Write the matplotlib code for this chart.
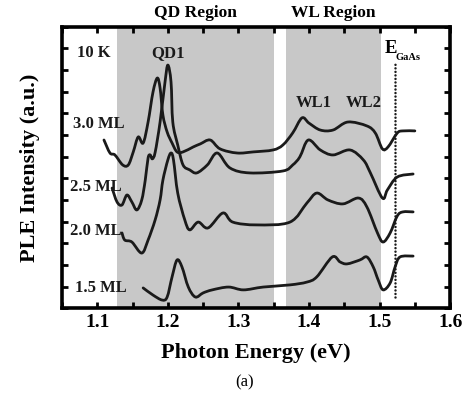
import matplotlib
matplotlib.use("Agg")
import matplotlib.pyplot as plt
from matplotlib.ticker import MultipleLocator
from matplotlib.path import Path
from matplotlib.patches import PathPatch

plt.rcParams['font.family'] = ['Liberation Serif', 'DejaVu Serif']

# ---- data (photon energy in eV, PLE intensity in offset arbitrary units) ----
x_30 = [1.1095, 1.118, 1.125, 1.136, 1.144, 1.151, 1.158, 1.165, 1.172, 1.179, 1.185, 1.189,
        1.193, 1.199, 1.206, 1.213, 1.2215, 1.236, 1.246, 1.260, 1.274, 1.298, 1.321, 1.349,
        1.363, 1.377, 1.390, 1.400, 1.416, 1.434, 1.455, 1.482, 1.494, 1.504, 1.512, 1.525,
        1.533, 1.550]
y_30 = [7.77, 7.17, 7.08, 6.62, 6.62, 7.22, 7.91, 7.63, 8.60, 9.99, 10.63, 10.17,
        8.92, 8.14, 7.63, 7.22, 7.22, 7.45, 7.59, 7.77, 7.36, 7.17, 7.22, 7.31,
        7.54, 8.10, 8.79, 8.55, 8.23, 8.23, 8.60, 8.42, 8.09, 7.36, 7.45, 8.09,
        8.19, 8.19]

x_25 = [1.121, 1.128, 1.135, 1.142, 1.149, 1.156, 1.163, 1.168, 1.172, 1.175, 1.178, 1.182,
        1.189, 1.196, 1.200, 1.2045, 1.207, 1.214, 1.2215, 1.231, 1.241, 1.256, 1.270, 1.288,
        1.316, 1.363, 1.377, 1.387, 1.399, 1.416, 1.434, 1.458, 1.477, 1.487, 1.504, 1.511,
        1.525, 1.5475]
y_25 = [5.55, 4.91, 4.77, 5.23, 4.91, 4.54, 5.00, 5.92, 6.94, 7.08, 6.90, 7.20,
        8.60, 10.45, 11.23, 10.45, 8.60, 7.54, 6.62, 6.39, 6.25, 6.62, 7.17, 6.48,
        6.25, 6.34, 6.62, 6.99, 7.77, 7.31, 7.08, 7.31, 6.85, 6.25, 5.09, 5.46,
        6.06, 6.20]

x_20 = [1.135, 1.139, 1.149, 1.163, 1.172, 1.182, 1.189, 1.193, 1.200, 1.2045, 1.208, 1.214,
        1.224, 1.231, 1.243, 1.257, 1.278, 1.292, 1.326, 1.373, 1.397, 1.411, 1.427, 1.448,
        1.470, 1.482, 1.497, 1.505, 1.515, 1.525, 1.533, 1.5475]
y_20 = [3.48, 3.15, 3.06, 2.55, 3.15, 4.08, 5.00, 5.92, 6.85, 7.17, 6.85, 5.32,
        4.08, 3.62, 3.98, 3.71, 4.40, 3.98, 3.85, 3.98, 4.86, 5.32, 5.00, 4.82,
        5.09, 4.68, 3.48, 3.06, 3.48, 4.26, 4.45, 4.45]

x_15 = [1.165, 1.179, 1.192, 1.199, 1.206, 1.213, 1.220, 1.229, 1.239, 1.250, 1.263, 1.286,
        1.307, 1.335, 1.373, 1.397, 1.411, 1.433, 1.444, 1.454, 1.472, 1.482, 1.491, 1.498,
        1.505, 1.515, 1.522, 1.529, 1.5475]
y_15 = [0.94, 0.61, 0.38, 0.52, 1.45, 2.23, 1.91, 0.98, 0.52, 0.71, 0.85, 0.98,
        0.85, 0.98, 1.08, 1.21, 1.45, 2.37, 2.14, 2.05, 2.23, 2.37, 1.91, 1.31,
        0.85, 1.17, 1.91, 2.37, 2.41]

series_labels = ["3.0 ML", "2.5 ML", "2.0 ML", "1.5 ML"]
qd_region = (1.128, 1.350)
wl_region = (1.368, 1.502)
e_gaas = 1.522


def smooth_path(xs, ys):
    """Bezier path through the data points (Catmull-Rom tangents)."""
    pts = list(zip(xs, ys))
    verts = [pts[0]]
    codes = [Path.MOVETO]
    n = len(pts)
    for i in range(n - 1):
        p0 = pts[i - 1] if i > 0 else pts[i]
        p1 = pts[i]
        p2 = pts[i + 1]
        p3 = pts[i + 2] if i + 2 < n else pts[i + 1]
        c1 = (p1[0] + (p2[0] - p0[0]) / 6.0, p1[1] + (p2[1] - p0[1]) / 6.0)
        c2 = (p2[0] - (p3[0] - p1[0]) / 6.0, p2[1] - (p3[1] - p1[1]) / 6.0)
        verts += [c1, c2, p2]
        codes += [Path.CURVE4] * 3
    return Path(verts, codes)


fig = plt.figure(figsize=(4.66, 3.96), dpi=100)
ax = fig.add_axes([0.133, 0.2215, 0.833, 0.711])

ax.axvspan(*qd_region, color='#c8c8c8', lw=0, zorder=0)
ax.axvspan(*wl_region, color='#c8c8c8', lw=0, zorder=0)

for xs, ys in [(x_30, y_30), (x_25, y_25), (x_20, y_20), (x_15, y_15)]:
    ax.add_patch(PathPatch(smooth_path(xs, ys), facecolor='none', edgecolor='#1a1a1a',
                           lw=2.0, joinstyle='round', capstyle='round', zorder=3))

ax.plot([e_gaas, e_gaas], [0.52, 11.37], color='#1a1a1a', lw=1.8,
        linestyle=(0, (0.01, 1.4)), dash_capstyle='round', zorder=3)

ax.set_xlim(1.05, 1.6)
ax.set_ylim(0, 13)
ax.xaxis.set_major_locator(MultipleLocator(0.1))
ax.xaxis.set_minor_locator(MultipleLocator(0.05))
ax.yaxis.set_major_locator(MultipleLocator(1))
ax.tick_params(which='both', direction='in', top=True, right=True, length=4, width=2)
ax.tick_params(axis='y', labelleft=False)
ax.tick_params(axis='x', labelsize=14, pad=4)
for lab in ax.get_xticklabels():
    lab.set_fontweight('bold')
for s in ax.spines.values():
    s.set_linewidth(2.6)

ax.set_xlabel("Photon Energy (eV)", fontsize=16, fontweight='bold', labelpad=9)
ax.set_ylabel("PLE Intensity (a.u.)", fontsize=16, fontweight='bold', labelpad=16)

bold = dict(fontweight='bold', fontsize=12, color='#1a1a1a')
ax.text(1.0715, 11.8, "10 K", va='center', ha='left', **bold)
ax.text(1.200, 11.8, "QD1", va='center', ha='center', **bold)
ax.text(1.065, 8.5, series_labels[0], va='center', ha='left', **bold)
ax.text(1.062, 5.6, series_labels[1], va='center', ha='left', **bold)
ax.text(1.062, 3.55, series_labels[2], va='center', ha='left', **bold)
ax.text(1.068, 0.95, series_labels[3], va='center', ha='left', **bold)
ax.text(1.407, 9.5, "WL1", va='center', ha='center', **bold)
ax.text(1.478, 9.5, "WL2", va='center', ha='center', **bold)
ax.text(1.507, 12.0, "E", va='center', ha='left', fontweight='bold', fontsize=13.5)
ax.text(1.523, 11.6, "GaAs", va='center', ha='left', fontweight='bold', fontsize=7.5)

fig.text(195/466, 1 - 13/396, "QD Region", ha='center', va='center', fontweight='bold', fontsize=12.5)
fig.text(333/466, 1 - 13/396, "WL Region", ha='center', va='center', fontweight='bold', fontsize=12.5)
fig.text(245/466, 1 - 382/396, "(a)", ha='center', va='center', fontsize=12)

fig.savefig("out.png", dpi=100)
